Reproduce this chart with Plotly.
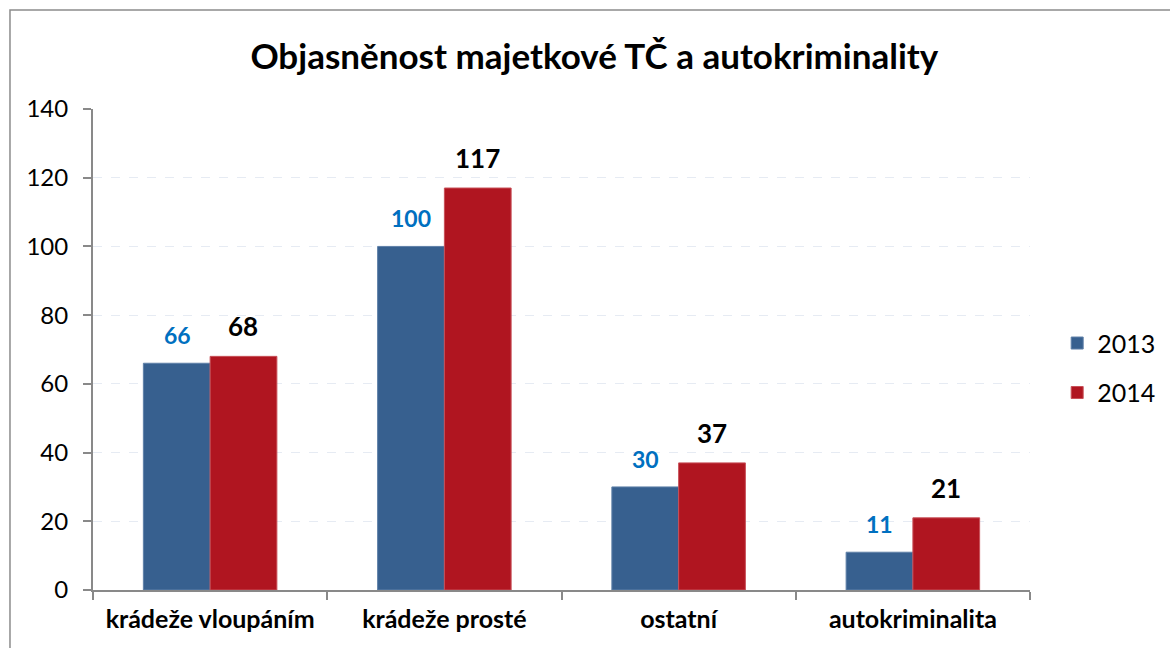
import plotly.graph_objects as go

categories = ["krádeže vloupáním", "krádeže prosté", "ostatní", "autokriminalita"]
values_2013 = [66, 100, 30, 11]
values_2014 = [68, 117, 37, 21]
y_ticks = [0, 20, 40, 60, 80, 100, 120, 140]

FONT = "Lato"
BLUE = "#37608F"
RED = "#B01520"

fig = go.Figure()
fig.add_trace(go.Bar(name="2013", x=categories, y=values_2013, marker=dict(color=BLUE, line=dict(color="#5F80A8", width=1)),
                     legendgroup="a"))
fig.add_trace(go.Bar(name="2014", x=categories, y=values_2014, marker=dict(color=RED, line=dict(color="#C85058", width=1)),
                     legendgroup="b"))

for c, v in zip(categories, values_2013):
    fig.add_annotation(x=c, y=v, xref="x", yref="y", text=f"<b>{v}</b>", showarrow=False,
                       xshift=-33, yshift=12, yanchor="bottom",
                       font=dict(family=FONT, size=23, color="#0070C0"))
for c, v in zip(categories, values_2014):
    fig.add_annotation(x=c, y=v, xref="x", yref="y", text=f"<b>{v}</b>", showarrow=False,
                       xshift=33, yshift=12, yanchor="bottom",
                       font=dict(family=FONT, size=26, color="#000000"))

fig.add_shape(type="rect", xref="paper", yref="paper", x0=-0.0886, x1=1.5, y0=-0.5, y1=1.2058,
              line=dict(color="#8C8C8C", width=1.5), layer="below")

fig.update_layout(
    width=1170, height=648,
    margin=dict(l=93, r=140, t=109, b=58, autoexpand=False),
    paper_bgcolor="white", plot_bgcolor="white",
    title=dict(text="<b>Objasněnost majetkové TČ a autokriminality</b>", x=0.508, xanchor="center",
               y=0.912, yanchor="middle", font=dict(family=FONT, size=35, color="#000000")),
    font=dict(family=FONT, size=20, color="#000000"),
    barmode="group", bargap=0.43, bargroupgap=0,
    legend=dict(x=1.029, y=0.462, xanchor="left", yanchor="middle", font=dict(family=FONT, size=25),
                tracegroupgap=14, itemwidth=30, traceorder="grouped"),
    showlegend=True,
)
fig.update_xaxes(showline=True, linecolor="#898989", linewidth=2, ticks="outside", tickson="boundaries",
                 ticklen=8, tickcolor="#898989", tickwidth=2, ticklabelstandoff=6,
                 tickfont=dict(family=FONT, size=25, color="#000000", weight="bold"))
fig.update_yaxes(range=[0, 140], tickvals=y_ticks, showline=True, linecolor="#898989", linewidth=2,
                 ticks="outside", ticklen=8, tickcolor="#898989", tickwidth=2, ticklabelstandoff=10,
                 showgrid=True, gridcolor="#E6EBF3", griddash="dash", gridwidth=1,
                 zeroline=False, tickfont=dict(family=FONT, size=24, color="#000000"))

fig.write_html("out.html", config={"displayModeBar": False},
               post_script="document.body.style.margin='0';")
